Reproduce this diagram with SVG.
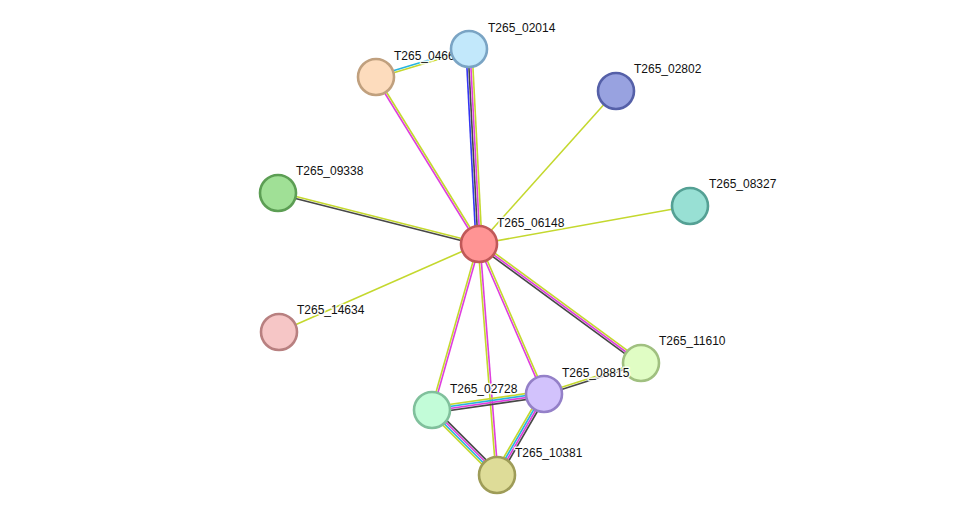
<svg xmlns="http://www.w3.org/2000/svg" width="976" height="520" viewBox="0 0 976 520">
<style>
.e line{stroke-width:1.6;fill:none;stroke-linecap:butt}
.y{stroke:#c4d82e}
.m{stroke:#de3ede}
.k{stroke:#474747}
.b{stroke:#3434f2}
.c{stroke:#27b4de}
.n circle{stroke-width:2.6}
.n text{font-family:"Liberation Sans",Arial,sans-serif;font-size:12px;fill:#111;stroke:#fff;stroke-width:3;stroke-opacity:0.85;paint-order:stroke;stroke-linejoin:round}
</style>
<rect width="976" height="520" fill="#fff"/>
<g id="connectors" class="e">
<line class="b" x1="476" y1="244.15" x2="466" y2="49.15"/>
<line class="k" x1="478" y1="244.05" x2="468" y2="49.05"/>
<line class="m" x1="480" y1="243.95" x2="470" y2="48.95"/>
<line class="y" x1="482" y1="243.85" x2="472" y2="48.85"/>
<line class="m" x1="478.15" y1="244.53" x2="375.15" y2="77.53"/>
<line class="y" x1="479.85" y1="243.47" x2="376.85" y2="76.47"/>
<line class="c" x1="375.71" y1="76.04" x2="468.71" y2="48.04"/>
<line class="y" x1="376.29" y1="77.96" x2="469.29" y2="49.96"/>
<line class="y" x1="479" y1="244" x2="616" y2="91"/>
<line class="y" x1="479" y1="244" x2="690" y2="206"/>
<line class="y" x1="479" y1="244" x2="279" y2="332"/>
<line class="y" x1="479.25" y1="243.03" x2="278.25" y2="192.03"/>
<line class="k" x1="478.75" y1="244.97" x2="277.75" y2="193.97"/>
<line class="y" x1="480.18" y1="242.39" x2="642.18" y2="361.39"/>
<line class="m" x1="479" y1="244" x2="641" y2="363"/>
<line class="k" x1="477.82" y1="245.61" x2="639.82" y2="364.61"/>
<line class="m" x1="478.08" y1="244.4" x2="543.08" y2="394.4"/>
<line class="y" x1="479.92" y1="243.6" x2="544.92" y2="393.6"/>
<line class="y" x1="478.04" y1="243.73" x2="431.04" y2="409.73"/>
<line class="m" x1="479.96" y1="244.27" x2="432.96" y2="410.27"/>
<line class="y" x1="478" y1="244.08" x2="496" y2="475.08"/>
<line class="m" x1="480" y1="243.92" x2="498" y2="474.92"/>
<line class="y" x1="543.7" y1="393.05" x2="640.7" y2="362.05"/>
<line class="k" x1="544.3" y1="394.95" x2="641.3" y2="363.95"/>
<line class="y" x1="431.58" y1="407.03" x2="543.58" y2="391.03"/>
<line class="c" x1="431.86" y1="409.01" x2="543.86" y2="393.01"/>
<line class="m" x1="432.14" y1="410.99" x2="544.14" y2="394.99"/>
<line class="k" x1="432.42" y1="412.97" x2="544.42" y2="396.97"/>
<line class="k" x1="434.12" y1="407.88" x2="499.12" y2="472.88"/>
<line class="m" x1="432.71" y1="409.29" x2="497.71" y2="474.29"/>
<line class="c" x1="431.29" y1="410.71" x2="496.29" y2="475.71"/>
<line class="y" x1="429.88" y1="412.12" x2="494.88" y2="477.12"/>
<line class="y" x1="541.4" y1="392.49" x2="494.4" y2="473.49"/>
<line class="c" x1="543.13" y1="393.5" x2="496.13" y2="474.5"/>
<line class="m" x1="544.87" y1="394.5" x2="497.87" y2="475.5"/>
<line class="k" x1="546.6" y1="395.51" x2="499.6" y2="476.51"/>
</g>
<g id="T265_06148" class="n"><circle cx="479" cy="244" r="18" fill="#ff9494" stroke="#c05858"/><text x="497" y="227">T265_06148</text></g>
<g id="T265_0466" class="n"><circle cx="376" cy="77" r="18" fill="#fddcbd" stroke="#c0a07e"/><text x="394" y="60">T265_0466</text></g>
<g id="T265_02014" class="n"><circle cx="469" cy="49" r="18" fill="#c2e8fb" stroke="#7aa4c4"/><text x="488" y="32">T265_02014</text></g>
<g id="T265_02802" class="n"><circle cx="616" cy="91" r="18" fill="#98a2e0" stroke="#5560a8"/><text x="634" y="73">T265_02802</text></g>
<g id="T265_09338" class="n"><circle cx="278" cy="193" r="18" fill="#a0e096" stroke="#5c9e54"/><text x="296" y="175">T265_09338</text></g>
<g id="T265_08327" class="n"><circle cx="690" cy="206" r="18" fill="#98e0d4" stroke="#54a094"/><text x="709" y="188">T265_08327</text></g>
<g id="T265_14634" class="n"><circle cx="279" cy="332" r="18" fill="#f6c6c6" stroke="#b88080"/><text x="297" y="314">T265_14634</text></g>
<g id="T265_11610" class="n"><circle cx="641" cy="363" r="18" fill="#e0fdc4" stroke="#a0c080"/><text x="659" y="345">T265_11610</text></g>
<g id="T265_02728" class="n"><circle cx="432" cy="410" r="18" fill="#c2fcd8" stroke="#80c09c"/><text x="450" y="393">T265_02728</text></g>
<g id="T265_08815" class="n"><circle cx="544" cy="394" r="18" fill="#d2c2fc" stroke="#9480c8"/><text x="562" y="377">T265_08815</text></g>
<g id="T265_10381" class="n"><circle cx="497" cy="475" r="18" fill="#dedc98" stroke="#9e9c58"/><text x="515" y="457">T265_10381</text></g>
</svg>
